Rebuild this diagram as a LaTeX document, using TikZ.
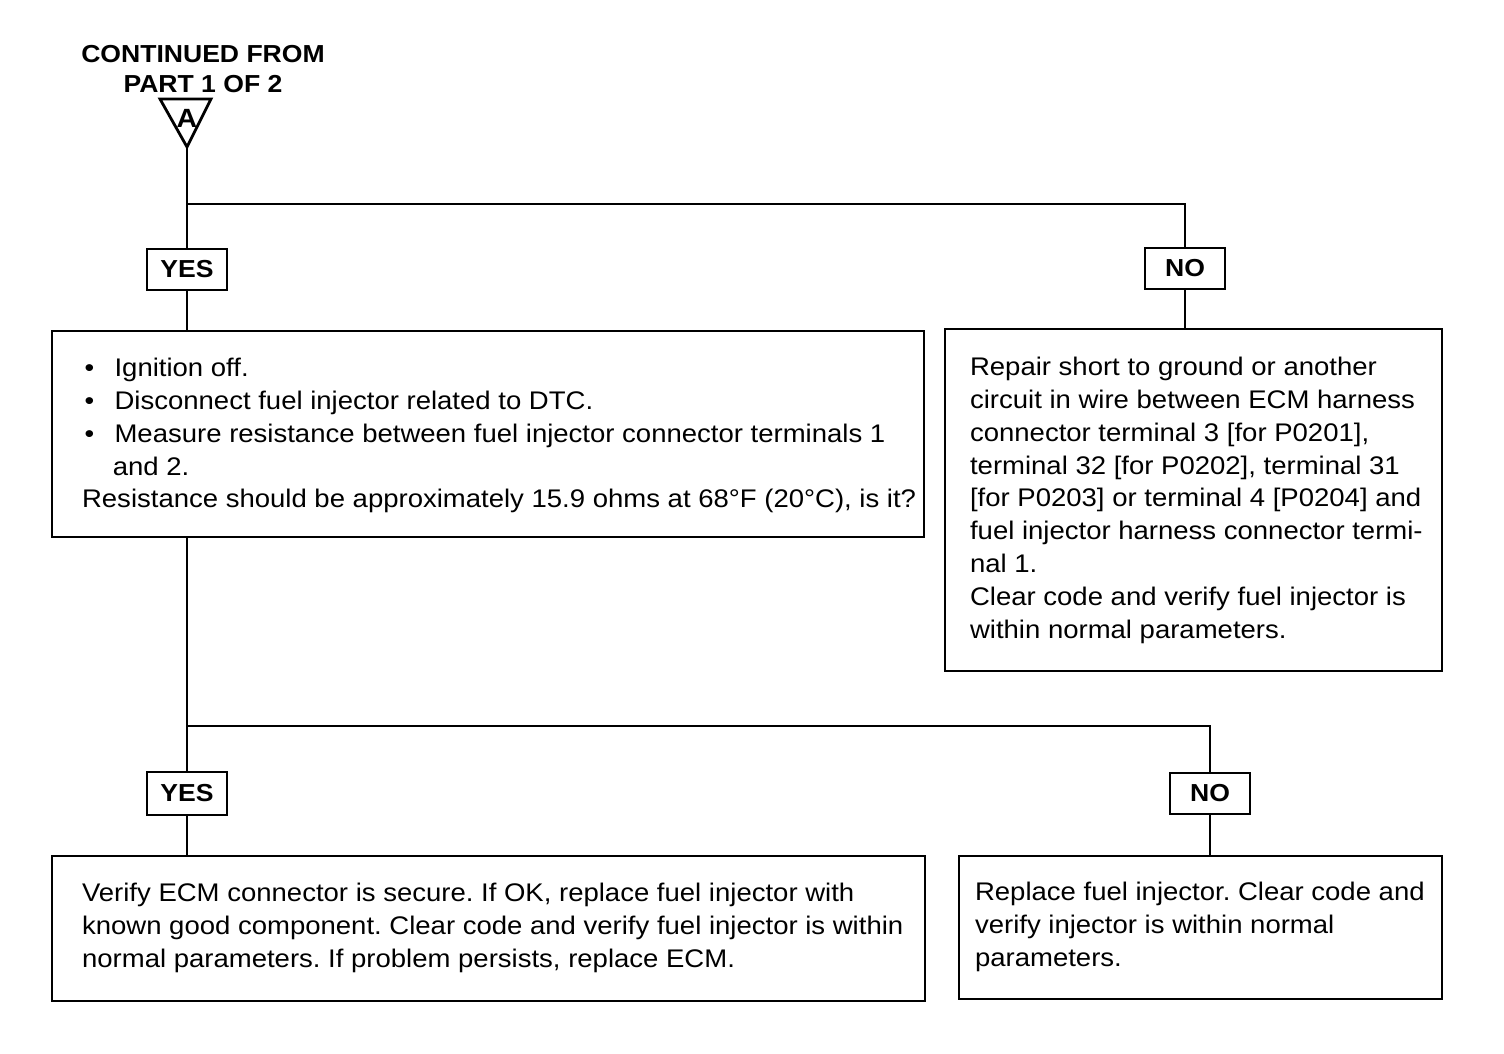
\documentclass[tikz,border=0pt]{standalone}
\usepackage{fontspec}
\setmainfont{Liberation Sans}[FakeStretch=1.08]
\frenchspacing
\newcommand{\itemdot}{\makebox[18.5pt][l]{\hspace{1.5pt}\textbullet}}

\begin{document}
\begin{tikzpicture}[x=0.02cm, y=-0.02cm, line width=1.6pt,
	answer/.style={rectangle, draw, minimum width=1.6cm, minimum height=0.82cm, inner sep=0pt, font=\fontsize{14}{17}\selectfont\bfseries},
	stepbox/.style={rectangle, draw, inner sep=0pt},
	body/.style={anchor=north west, inner sep=0pt, align=left, font=\fontsize{14.5}{18.7}\selectfont}]
	\useasboundingbox (0,0) rectangle (1504,1054);

	% entry point
	\node[anchor=north, inner sep=0pt, align=center, font=\fontsize{14}{17}\selectfont\bfseries] at (203,44) (title) {CONTINUED FROM\\PART 1 OF 2};
	\draw (160,99) -- (211,99) -- (187,147) -- cycle;
	\coordinate (apex) at (187,147);
	\node[inner sep=0pt, font=\fontsize{15}{18}\selectfont\bfseries] at (187,118) (markA) {A};

	% answer boxes
	\node[answer] at (187,269.5) (yes1) {YES};
	\node[answer] at (1185,268.5) (no1) {NO};
	\node[answer, minimum height=0.86cm] at (187,793.5) (yes2) {YES};
	\node[answer] at (1210,793.5) (no2) {NO};

	% step boxes
	\node[stepbox, minimum width=17.44cm, minimum height=4.12cm] at (488,434) (check) {};
	\node[stepbox, minimum width=9.94cm, minimum height=6.84cm] at (1193.5,500) (repair) {};
	\node[stepbox, minimum width=17.46cm, minimum height=2.9cm] at (488.5,928.5) (ecm) {};
	\node[stepbox, minimum width=9.66cm, minimum height=2.86cm] at (1200.5,927.5) (injector) {};

	\node[body] at ([shift={(30,27)}]check.north west) (checktext) {\itemdot Ignition off.\\
		\itemdot Disconnect fuel injector related to DTC.\\
		\itemdot Measure resistance between fuel injector connector terminals 1\\
		\hspace*{17.5pt}and 2.\\
		Resistance should be approximately 15.9 ohms at 68°F (20°C), is it?};
	\node[body] at ([shift={(25,28)}]repair.north west) (repairtext) {Repair short to ground or another\\
		circuit in wire between ECM harness\\
		connector terminal 3 {[}for P0201],\\
		terminal 32 {[}for P0202], terminal 31\\
		{[}for P0203] or terminal 4 {[}P0204] and\\
		fuel injector harness connector termi-\\
		nal 1.\\
		Clear code and verify fuel injector is\\
		within normal parameters.};
	\node[body] at ([shift={(30,27)}]ecm.north west) (ecmtext) {Verify ECM connector is secure. If OK, replace fuel injector with\\
		known good component. Clear code and verify fuel injector is within\\
		normal parameters. If problem persists, replace ECM.};
	\node[body] at ([shift={(16,26)}]injector.north west) (injectortext) {Replace fuel injector. Clear code and\\
		verify injector is within normal\\
		parameters.};

	% connectors
	\coordinate (split1) at (187,204);
	\coordinate (split2) at (187,726);
	\draw (apex) -- (yes1);
	\draw (split1) -| (no1);
	\draw (yes1.south) -- (yes1.south |- check.north);
	\draw (no1.south) -- (no1.south |- repair.north);
	\draw (yes2.north |- check.south) -- (yes2);
	\draw (split2) -| (no2);
	\draw (yes2.south) -- (yes2.south |- ecm.north);
	\draw (no2.south) -- (no2.south |- injector.north);
\end{tikzpicture}
\end{document}
